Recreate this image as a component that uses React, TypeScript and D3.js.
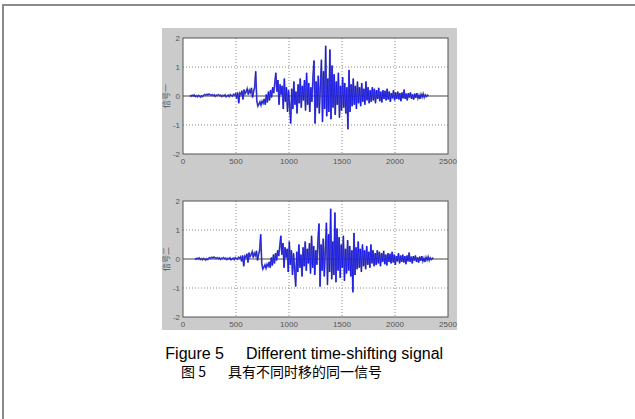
import React from "react";
import * as d3 from "d3";

// x ticks and y ticks shared by both panels
const xTicks = [0, 500, 1000, 1500, 2000, 2500];
const yTicks = [2, 1, 0, -1, -2];
const xTickLabels = ["0", "500", "1000", "1500", "2000", "2500"];
const yTickLabels = ["2", "1", "0", "-1", "-2"];

// the same recorded signal, one sample every 10 points
const sampleStep = 10;
const signal = [
  0.02, -0.01, 0.03, 0.0, 0.04, -0.02, 0.01, -0.03, 0.02, 0.0,
  -0.04, 0.01, -0.02, 0.03, 0.05, 0.02, 0.06, 0.03, 0.07, 0.04,
  0.02, 0.05, 0.01, 0.04, -0.01, 0.03, 0.02, 0.05, 0.01, 0.03,
  -0.02, 0.02, 0.0, 0.04, -0.03, 0.01, 0.03, -0.02, 0.05, 0.02,
  -0.01, 0.06, 0.03, 0.08,
  -0.08, 0.12, -0.25, 0.1, 0.05, 0.18, -0.12, 0.22, 0.08, 0.15,
  0.25, 0.05, 0.2, 0.12, 0.28, -0.05, 0.15,
  0.3, 0.85, -0.15, -0.35,
  -0.28, -0.2, -0.32, -0.18, -0.25, -0.1, -0.3, 0.05, -0.22, 0.15,
  -0.15, 0.2, -0.05, 0.3,
  0.1, 0.45, 0.8, 0.15, 0.55, -0.3, 0.4, 0.05, 0.35, -0.45,
  0.6, -0.2, 0.3, -0.55, 0.2, -0.35,
  -0.95, 0.25, -0.45, 0.5, -0.3, 0.15, -0.6, 0.4, -0.25, 0.6,
  -0.4, 0.35, -0.15, 0.55, -0.5, 0.8, -0.3, 0.45, -0.55, 0.3,
  -0.2, 0.65, 1.22, -0.95, 0.5, -0.4,
  0.7, -0.6, 0.3, 1.25, -0.9, 0.85, -0.45, 1.73, -0.7, 0.6,
  -0.55, 1.6, -0.8, 1.05, -0.4,
  0.75, -0.65, 0.5, -0.3, 0.8, -0.75, 0.35, -0.5, 0.65, -0.4,
  0.45, -0.6, 0.3, -1.15, 0.9,
  -0.55, 0.4, -0.35, 0.6, -0.3, 0.35, -0.45, 0.5, -0.25, 0.3,
  -0.35, 0.45, -0.2, 0.25, -0.3, 0.5, -0.15, 0.3, -0.25, 0.2,
  -0.2, 0.3, -0.15, 0.25, -0.25, 0.2, -0.1, 0.28, -0.18, 0.15,
  -0.22, 0.2, -0.1, 0.18, -0.15, 0.25, -0.12, 0.15, -0.2, 0.1,
  -0.08, 0.2, -0.15, 0.12, -0.1,
  0.15, -0.12, 0.1, -0.18, 0.12, -0.08, 0.22, -0.1, 0.08, -0.15,
  0.1, -0.05, 0.12, -0.1, 0.05, -0.12, 0.08, -0.06, 0.1, -0.08,
  0.03, -0.1, 0.06, -0.04, 0.08, -0.05, 0.04, -0.02, 0.03, 0.01,
];

// start of the signal in each panel (the time shift)
const panelStarts = [66, 113];
const panelLabels = ["信号一", "信号二"];

function Panel({ top, start, label }: { top: number; start: number; label: string }) {
  const left = 183;
  const width = 265;
  const height = 116;

  const x = d3.scaleLinear().domain([0, 2500]).range([left, left + width]);
  const y = d3.scaleLinear().domain([-2, 2]).range([top + height, top]);

  const line = d3
    .line<number>()
    .x((_, i) => x(start + i * sampleStep))
    .y((d) => y(d));

  const clipId = "clip" + top;
  const path = line(signal) || "";

  return (
    <g>
      <defs>
        <clipPath id={clipId}>
          <rect x={left} y={top} width={width} height={height} />
        </clipPath>
      </defs>
      <rect x={left} y={top} width={width} height={height} fill="#fff" />
      {xTicks.slice(1, -1).map((t) => (
        <line key={"gx" + t} x1={x(t)} x2={x(t)} y1={top} y2={top + height}
          stroke="#8a8a8a" strokeDasharray="1,2" strokeWidth={1} />
      ))}
      {yTicks.filter((t) => t === 1 || t === -1).map((t) => (
        <line key={"gy" + t} x1={left} x2={left + width} y1={y(t)} y2={y(t)}
          stroke="#8a8a8a" strokeDasharray="1,2" strokeWidth={1} />
      ))}
      <line x1={left} x2={left + width} y1={y(0)} y2={y(0)} stroke="#444" strokeWidth={1} />
      <g clipPath={`url(#${clipId})`}>
        <path d={path} fill="none" stroke="#4a4aa0" strokeWidth={1.7} strokeOpacity={0.85} />
        <path d={path} fill="none" stroke="#1414f0" strokeWidth={0.8} />
      </g>
      <rect x={left} y={top} width={width} height={height} fill="none" stroke="#555" strokeWidth={1} />
      {xTicks.map((t, i) => (
        <text key={"tx" + t} x={x(t)} y={top + height + 10} fontSize={8}
          fontFamily="Liberation Sans, Arial, sans-serif" fill="#555" textAnchor="middle">
          {xTickLabels[i]}
        </text>
      ))}
      {yTicks.map((t, i) => (
        <text key={"ty" + t} x={left - 3} y={y(t) + 3} fontSize={8}
          fontFamily="Liberation Sans, Arial, sans-serif" fill="#555" textAnchor="end">
          {yTickLabels[i]}
        </text>
      ))}
      <text x={0} y={0} fontSize={8} fill="#555" textAnchor="middle"
        fontFamily="Noto Sans CJK SC, sans-serif"
        transform={`translate(${left - 14},${y(0)}) rotate(-90)`}>
        {label}
      </text>
    </g>
  );
}

export default function App() {
  return (
    <svg width={635} height={419} style={{ position: "absolute", left: 0, top: 0, background: "#fff" }}>
      <line x1={3} x2={635} y1={5} y2={5} stroke="#8a8a8a" strokeWidth={2} />
      <line x1={3} x2={3} y1={4} y2={419} stroke="#8a8a8a" strokeWidth={2} />
      <rect x={162} y={28} width={295} height={302} fill="#cbcbcb" />
      <Panel top={38} start={panelStarts[0]} label={panelLabels[0]} />
      <Panel top={201} start={panelStarts[1]} label={panelLabels[1]} />
      <g fontFamily="Liberation Sans, Arial, sans-serif" fontSize={16} fill="#000">
        <text x={224} y={359} textAnchor="end">Figure 5</text>
        <text x={246} y={359}>Different time-shifting signal</text>
      </g>
      <g fontFamily="Noto Sans CJK SC, sans-serif" fontSize={14} fill="#000">
        <text x={206} y={377} textAnchor="end">图 5</text>
        <text x={228} y={377}>具有不同时移的同一信号</text>
      </g>
    </svg>
  );
}
